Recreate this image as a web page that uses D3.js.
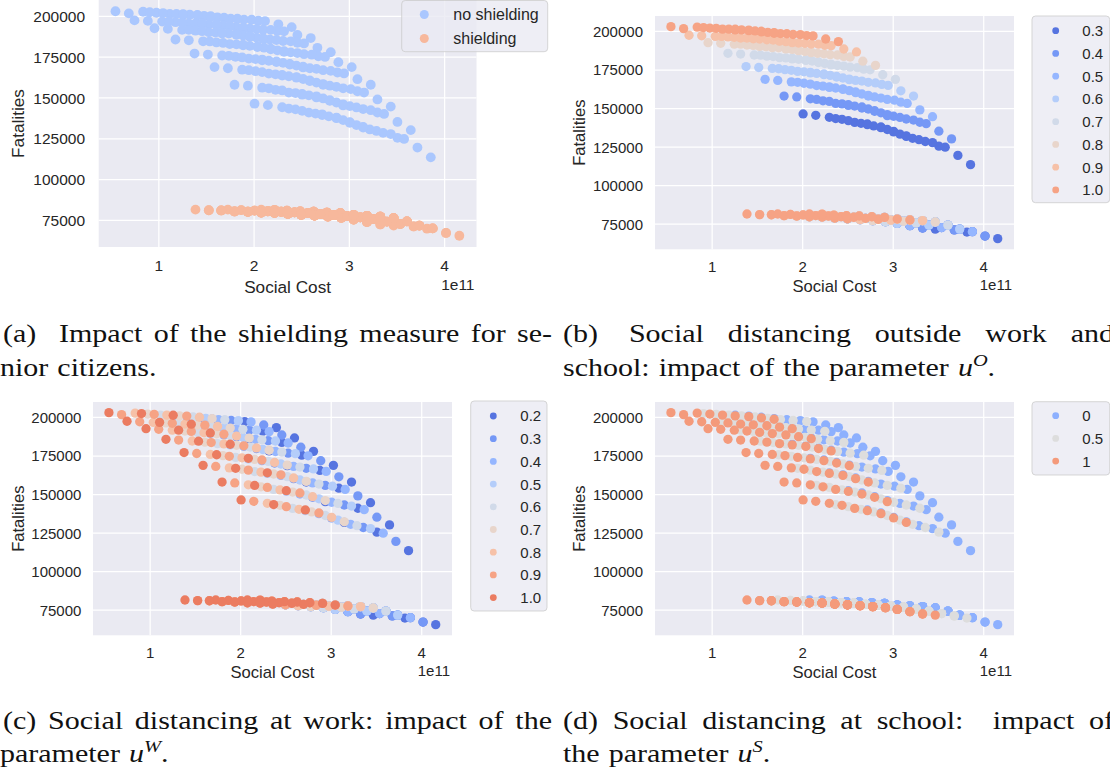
<!DOCTYPE html>
<html>
<head>
<meta charset="utf-8">
<script src="https://cdn.jsdelivr.net/npm/d3@7/dist/d3.min.js"></script>
<style>
  html, body { margin: 0; padding: 0; background: #ffffff; overflow: hidden; }
  svg { display: block; }
</style>
</head>
<body>
<svg id="fig" width="1110" height="775" viewBox="0 0 1110 775"></svg>
<script>
// ================= DATA =================
const uOValues = [1.0, 0.9, 0.8, 0.7, 0.6, 0.5, 0.4, 0.3];
const uSValues = [1, 0.5, 0];
const uWValues = [1.0, 0.9, 0.8, 0.7, 0.6, 0.5, 0.4, 0.3, 0.2];
const shieldLabels = ["no shielding", "shielding"];
const xTickValues = [1, 2, 3, 4];
const yTickValues = [75000, 100000, 125000, 150000, 175000, 200000];

// Social cost (x 1e11), indexed [uO][uS][uW]  (no shielding)
const costNoShield = [
 [[0.55,0.69,0.84,0.98,1.12,1.26,1.41,1.55,1.69],[0.91,1.05,1.19,1.33,1.48,1.62,1.76,1.90,2.05],[1.26,1.41,1.55,1.69,1.83,1.98,2.12,2.26,2.40]],
 [[0.75,0.89,1.04,1.18,1.32,1.46,1.61,1.75,1.89],[1.11,1.25,1.39,1.53,1.68,1.82,1.96,2.10,2.25],[1.46,1.61,1.75,1.89,2.03,2.18,2.32,2.46,2.60]],
 [[0.96,1.10,1.25,1.39,1.53,1.67,1.82,1.96,2.10],[1.32,1.46,1.60,1.74,1.89,2.03,2.17,2.31,2.46],[1.67,1.82,1.96,2.10,2.24,2.39,2.53,2.67,2.81]],
 [[1.18,1.32,1.47,1.61,1.75,1.89,2.04,2.18,2.32],[1.54,1.68,1.82,1.96,2.11,2.25,2.39,2.53,2.68],[1.89,2.04,2.18,2.32,2.46,2.61,2.75,2.89,3.03]],
 [[1.38,1.52,1.67,1.81,1.95,2.09,2.24,2.38,2.52],[1.74,1.88,2.02,2.16,2.31,2.45,2.59,2.73,2.88],[2.09,2.24,2.38,2.52,2.66,2.81,2.95,3.09,3.23]],
 [[1.59,1.73,1.88,2.02,2.16,2.30,2.45,2.59,2.73],[1.95,2.09,2.23,2.37,2.52,2.66,2.80,2.94,3.09],[2.30,2.45,2.59,2.73,2.87,3.02,3.16,3.30,3.44]],
 [[1.80,1.94,2.09,2.23,2.37,2.51,2.66,2.80,2.94],[2.16,2.30,2.44,2.58,2.73,2.87,3.01,3.15,3.30],[2.51,2.66,2.80,2.94,3.08,3.23,3.37,3.51,3.65]],
 [[2.01,2.15,2.30,2.44,2.58,2.72,2.87,3.01,3.15],[2.37,2.51,2.65,2.79,2.94,3.08,3.22,3.36,3.51],[2.72,2.87,3.01,3.15,3.29,3.44,3.58,3.72,3.86]]
];
// Fatalities (thousands), indexed [uO][uS][uW]  (no shielding)
const fatalNoShieldK = [
 [[202.8,201.5,202.5,201.9,201.2,200.7,200.2,199.4,198.5],[202.2,201.7,201.2,200.7,200.0,199.1,198.3,197.7,197.0],[201.1,200.6,199.8,198.9,198.2,197.6,196.8,194.8,193.1]],
 [[197.2,196.9,196.5,196.1,195.4,194.9,194.3,193.4,192.4],[196.5,195.9,195.4,194.8,194.1,193.1,192.2,191.5,190.7],[195.3,194.7,193.8,192.8,192.0,191.4,190.5,188.3,186.4]],
 [[192.4,192.0,191.4,190.9,190.0,189.2,188.4,187.2,185.9],[191.4,190.6,189.8,189.1,188.0,186.7,185.5,184.6,183.5],[189.6,188.8,187.6,186.3,185.2,184.4,183.1,180.4,177.7]],
 [[185.5,185.0,184.4,183.7,182.7,181.9,180.9,179.5,178.0],[184.3,183.4,182.5,181.6,180.5,178.9,177.6,176.5,175.2],[182.3,181.3,179.9,178.4,177.2,176.2,174.8,171.6,168.6]],
 [[176.9,176.3,175.7,174.9,173.8,172.8,171.7,170.1,168.4],[175.5,174.5,173.5,172.5,171.2,169.5,167.9,166.7,165.3],[173.2,172.1,170.5,168.8,167.5,166.3,164.7,161.2,157.8]],
 [[168.6,167.9,167.0,166.1,164.6,163.4,162.1,160.0,157.8],[166.7,165.5,164.2,163.0,161.3,159.1,157.2,155.6,153.8],[163.8,162.5,160.4,158.2,156.5,155.1,153.0,148.8,144.4]],
 [[157.8,157.2,156.0,154.7,153.0,151.7,150.0,147.9,145.1],[155.6,154.3,152.7,151.3,149.4,146.9,144.7,142.9,140.8],[152.2,150.7,148.3,145.8,143.9,142.2,139.9,135.0,130.0]],
 [[146.2,145.3,144.0,142.7,140.7,139.2,137.3,134.5,131.6],[143.2,141.8,140.1,138.4,136.1,133.1,130.4,128.3,125.3],[139.7,137.7,134.9,132.0,129.5,127.6,124.6,119.3,113.3]]
];
// Social cost (x 1e11), indexed [uO][uS][uW]  (shielding)
const costShield = [
 [[1.39,1.53,1.66,1.80,1.94,2.08,2.22,2.36,2.50],[1.73,1.87,2.01,2.15,2.29,2.43,2.57,2.70,2.84],[2.08,2.22,2.35,2.49,2.63,2.77,2.91,3.05,3.19]],
 [[1.53,1.66,1.80,1.94,2.08,2.22,2.36,2.50,2.64],[1.87,2.01,2.15,2.29,2.43,2.57,2.70,2.84,2.98],[2.22,2.35,2.49,2.63,2.77,2.91,3.05,3.19,3.33]],
 [[1.66,1.80,1.94,2.08,2.22,2.36,2.50,2.64,2.78],[2.01,2.15,2.29,2.43,2.57,2.70,2.84,2.98,3.12],[2.35,2.49,2.63,2.77,2.91,3.05,3.19,3.33,3.47]],
 [[1.80,1.94,2.08,2.22,2.36,2.50,2.64,2.78,2.92],[2.15,2.29,2.43,2.57,2.70,2.84,2.98,3.12,3.26],[2.49,2.63,2.77,2.91,3.05,3.19,3.33,3.47,3.61]],
 [[1.94,2.08,2.22,2.36,2.50,2.64,2.78,2.92,3.05],[2.29,2.43,2.57,2.70,2.84,2.98,3.12,3.26,3.40],[2.63,2.77,2.91,3.05,3.19,3.33,3.47,3.61,3.74]],
 [[2.08,2.22,2.36,2.50,2.64,2.78,2.92,3.05,3.19],[2.43,2.57,2.70,2.84,2.98,3.12,3.26,3.40,3.54],[2.77,2.91,3.05,3.19,3.33,3.47,3.61,3.74,3.88]],
 [[2.22,2.36,2.50,2.64,2.78,2.92,3.05,3.19,3.33],[2.57,2.70,2.84,2.98,3.12,3.26,3.40,3.54,3.68],[2.91,3.05,3.19,3.33,3.47,3.61,3.74,3.88,4.02]],
 [[2.36,2.50,2.64,2.78,2.92,3.05,3.19,3.33,3.47],[2.70,2.84,2.98,3.12,3.26,3.40,3.54,3.68,3.82],[3.05,3.19,3.33,3.47,3.61,3.74,3.88,4.02,4.16]]
];
// Fatalities (thousands), indexed [uO][uS][uW]  (shielding)
const fatalShieldK = [
 [[81.3,80.9,80.8,80.2,80.0,79.5,79.3,78.7,78.2],[81.3,81.0,80.7,80.3,80.0,79.6,79.2,78.5,77.9],[81.3,81.2,80.6,80.2,80.0,79.5,79.1,78.0,77.4]],
 [[80.9,80.8,80.2,80.0,79.5,79.3,78.7,78.2,77.6],[81.0,80.7,80.3,80.0,79.6,79.2,78.5,77.9,77.3],[81.2,80.6,80.2,80.0,79.5,79.1,78.0,77.4,77.0]],
 [[80.8,80.2,80.0,79.5,79.3,78.7,78.2,77.6,77.0],[80.7,80.3,80.0,79.6,79.2,78.5,77.9,77.3,76.6],[80.6,80.2,80.0,79.5,79.1,78.0,77.4,77.0,76.1]],
 [[80.2,80.0,79.5,79.3,78.7,78.2,77.6,77.0,76.3],[80.3,80.0,79.6,79.2,78.5,77.9,77.3,76.6,75.5],[80.2,80.0,79.5,79.1,78.0,77.4,77.0,76.1,74.1]],
 [[80.0,79.5,79.3,78.7,78.2,77.6,77.0,76.3,75.2],[80.0,79.6,79.2,78.5,77.9,77.3,76.6,75.5,74.0],[80.0,79.5,79.1,78.0,77.4,77.0,76.1,74.1,71.5]],
 [[79.5,79.3,78.7,78.2,77.6,77.0,76.3,75.2,73.7],[79.6,79.2,78.5,77.9,77.3,76.6,75.5,74.0,72.5],[79.5,79.1,78.0,77.4,77.0,76.1,74.1,71.5,69.8]],
 [[79.3,78.7,78.2,77.6,77.0,76.3,75.2,73.7,72.2],[79.2,78.5,77.9,77.3,76.6,75.5,74.0,72.5,71.0],[79.1,78.0,77.4,77.0,76.1,74.1,71.5,69.8,67.0]],
 [[78.7,78.2,77.6,77.0,76.3,75.2,73.7,72.2,71.5],[78.5,77.9,77.3,76.6,75.5,74.0,72.5,71.0,69.6],[78.0,77.4,77.0,76.1,74.1,71.5,69.8,67.0,65.3]]
];

// legend entries
const legendUO = [0.3, 0.4, 0.5, 0.6, 0.7, 0.8, 0.9, 1.0];
const legendUW = [0.2, 0.3, 0.4, 0.5, 0.6, 0.7, 0.8, 0.9, 1.0];
const legendUS = [0, 0.5, 1];
const legendUSLabels = ["0", "0.5", "1"];

// palettes (coolwarm samples)
const paletteShield = ["#aac7fe", "#f7b89c"];
const paletteUO = ["#5674e0", "#7598f6", "#95b6ff", "#b4cdfa", "#d1dae9", "#e8d5cb", "#f6c1a8", "#f6a385"];
const paletteUW = ["#5674e0", "#7598f6", "#95b6ff", "#b4cdfa", "#d1dae9", "#e8d5cb", "#f6c1a8", "#f6a385", "#eb7c61"];
const paletteUS = ["#8db0fe", "#dddddd", "#f49a7b"];

// ================= BUILD =================
const points = [];
uOValues.forEach((uO, o) => uSValues.forEach((uS, s) => uWValues.forEach((uW, w) => {
  points.push({shield: shieldLabels[0], uO, uS, uW, cost: costNoShield[o][s][w], fat: fatalNoShieldK[o][s][w] * 1000});
  points.push({shield: shieldLabels[1], uO, uS, uW, cost: costShield[o][s][w], fat: fatalShieldK[o][s][w] * 1000});
})));

const SANS = "'Liberation Sans', Arial, 'DejaVu Sans', sans-serif";
const SERIF = "'Liberation Serif', 'Times New Roman', 'DejaVu Serif', serif";
const TXT = "#262626";
const X_DOMAIN = [0.374, 4.34];
const Y_DOMAIN = [58400, 209700];

const svg = d3.select("#fig");
svg.append("rect").attr("width", 1110).attr("height", 775).attr("fill", "#fff");

const colorShield = d3.scaleOrdinal().domain(shieldLabels).range(paletteShield);
const colorUO = d3.scaleOrdinal().domain(legendUO).range(paletteUO);
const colorUW = d3.scaleOrdinal().domain(legendUW).range(paletteUW);
const colorUS = d3.scaleOrdinal().domain(legendUS).range(paletteUS);

function drawPanel(c) {
  const g = svg.append("g");
  const x = d3.scaleLinear().domain(X_DOMAIN).range([c.l, c.r]);
  const y = d3.scaleLinear().domain(Y_DOMAIN).range([c.b, c.t]);
  g.append("rect").attr("x", c.l).attr("y", c.t).attr("width", c.r - c.l).attr("height", c.b - c.t).attr("fill", "#eaeaf2");

  const xa = g.append("g").attr("transform", `translate(0,${c.b})`)
    .call(d3.axisBottom(x).tickValues(xTickValues).tickSize(-(c.b - c.t)).tickPadding(0).tickFormat(d3.format("d")));
  xa.select(".domain").remove();
  xa.attr("font-family", SANS).attr("font-size", c.tickFs);
  xa.selectAll(".tick line").attr("stroke", "#fff").attr("stroke-width", 1.25);
  xa.selectAll(".tick text").attr("y", c.xTickBase).attr("dy", null).attr("fill", TXT);

  const ya = g.append("g").attr("transform", `translate(${c.l},0)`)
    .call(d3.axisLeft(y).tickValues(yTickValues).tickSize(-(c.r - c.l)).tickPadding(0).tickFormat(d3.format("d")));
  ya.select(".domain").remove();
  ya.attr("font-family", SANS).attr("font-size", c.tickFs);
  ya.selectAll(".tick line").attr("stroke", "#fff").attr("stroke-width", 1.25);
  ya.selectAll(".tick text").attr("x", -(c.l - c.yTickRight)).attr("dy", "0.36em").attr("fill", TXT);

  const data = points.slice().sort((a, b) => d3.ascending(a[c.key], b[c.key]));
  g.append("g").selectAll("circle").data(data).join("circle")
    .attr("cx", d => x(d.cost)).attr("cy", d => y(d.fat)).attr("r", c.rad)
    .attr("fill", d => c.color(d[c.key]));

  g.append("text").attr("x", (c.l + c.r) / 2).attr("y", c.b + c.xLabBase)
    .attr("text-anchor", "middle").attr("font-family", SANS).attr("font-size", c.labFs).attr("fill", TXT).text("Social Cost");
  g.append("text").attr("x", c.r - 2).attr("y", c.b + c.offBase)
    .attr("text-anchor", "end").attr("font-family", SANS).attr("font-size", c.tickFs).attr("fill", TXT).text("1e11");
  g.append("text").attr("transform", `translate(${c.ylabX},${(c.t + c.b) / 2}) rotate(-90)`)
    .attr("text-anchor", "middle").attr("font-family", SANS).attr("font-size", c.labFs).attr("fill", TXT).text("Fatalities");

  const L = c.legend;
  const lg = svg.append("g");
  lg.append("rect").attr("x", L.x).attr("y", L.y).attr("width", L.w).attr("height", L.h).attr("rx", 3.5)
    .attr("fill", "#eaeaf2").attr("fill-opacity", 0.8).attr("stroke", "#cccccc").attr("stroke-opacity", 0.8).attr("stroke-width", 1);
  L.items.forEach((it, i) => {
    const cy = L.cy0 + i * L.step;
    lg.append("circle").attr("cx", L.mx).attr("cy", cy).attr("r", L.mr).attr("fill", c.color(it));
    lg.append("text").attr("x", L.tx).attr("y", cy).attr("dy", "0.36em")
      .attr("font-family", SANS).attr("font-size", L.fs).attr("fill", TXT).text(L.labels[i]);
  });
}

drawPanel({l: 98.7, r: 476.5, t: 0, b: 247, key: "shield", color: colorShield, rad: 4.9,
  tickFs: 15.5, labFs: 17.2, xTickBase: 23.7, xLabBase: 45.5, offBase: 43, yTickRight: 85, ylabX: 24,
  legend: {x: 401.7, y: 0.5, w: 146, h: 51.2, items: shieldLabels, labels: shieldLabels,
           cy0: 14.5, step: 24, mx: 424.3, mr: 4.5, tx: 453.3, fs: 16}});

drawPanel({l: 655, r: 1014, t: 16, b: 249.3, key: "uO", color: colorUO, rad: 4.65,
  tickFs: 15, labFs: 16.6, xTickBase: 22.8, xLabBase: 43, offBase: 41, yTickRight: 643, ylabX: 585,
  legend: {x: 1032, y: 16, w: 77.7, h: 186.7, items: legendUO, labels: legendUO.map(d => d.toFixed(1)),
           cy0: 30.7, step: 22.75, mx: 1055.7, mr: 3.4, tx: 1082.3, fs: 15}});

drawPanel({l: 93, r: 452, t: 402, b: 635.3, key: "uW", color: colorUW, rad: 4.65,
  tickFs: 15, labFs: 16.6, xTickBase: 22.5, xLabBase: 42.6, offBase: 40.6, yTickRight: 81.4, ylabX: 24.3,
  legend: {x: 470.7, y: 401, w: 76.3, h: 210, items: legendUW, labels: legendUW.map(d => d.toFixed(1)),
           cy0: 416, step: 22.7, mx: 493.3, mr: 3.4, tx: 520.3, fs: 15}});

drawPanel({l: 655, r: 1014, t: 402, b: 635.3, key: "uS", color: colorUS, rad: 4.65,
  tickFs: 15, labFs: 16.6, xTickBase: 22.5, xLabBase: 42.6, offBase: 40.6, yTickRight: 643, ylabX: 585,
  legend: {x: 1032, y: 401.7, w: 77.7, h: 73.3, items: legendUS, labels: legendUSLabels,
           cy0: 415.7, step: 22.7, mx: 1055.7, mr: 3.4, tx: 1082.3, fs: 15}});

// ================= CAPTIONS =================
const CAP_FS = 25;
const CAP_STRETCH = 1.2;

function captionLine(x0, base, words, opts) {
  opts = opts || {};
  const g = svg.append("g").attr("font-family", SERIF).attr("font-size", CAP_FS).attr("fill", "#111");
  const texts = words.map(wd => {
    const t = g.append("text").attr("y", base);
    (typeof wd === "string" ? [{t: wd}] : wd).forEach(seg => {
      const ts = t.append("tspan").text(seg.t);
      if (seg.it) ts.attr("font-style", "italic");
      if (seg.sup) ts.attr("font-size", CAP_FS * 0.68).attr("dy", -CAP_FS * 0.4);
      if (seg.back) ts.attr("dy", CAP_FS * 0.4);
    });
    return t;
  });
  const nat = texts.map(t => t.node().getComputedTextLength());
  const wS = nat.map(w => w * CAP_STRETCH);
  const weights = opts.weights || words.slice(1).map(() => 1);
  const units = d3.sum(weights);
  const gap = opts.target ? (opts.target - d3.sum(wS)) / units : CAP_FS * CAP_STRETCH * 0.3;
  let xs = x0;
  texts.forEach((t, i) => {
    t.attr("x", xs).attr("textLength", wS[i]).attr("lengthAdjust", "spacingAndGlyphs");
    xs += wS[i] + (i < weights.length ? weights[i] * gap : 0);
  });
}
const mathWord = (sup) => [{t: "u", it: true}, {t: sup, it: true, sup: true}, {t: ".", back: true}];

captionLine(3, 342, ["(a)", "Impact", "of", "the", "shielding", "measure", "for", "se-"], {target: 549, weights: [2,1,1,1,1,1,1]});
captionLine(0, 376, ["nior", "citizens."]);
captionLine(563, 342, ["(b)", "Social", "distancing", "outside", "work", "and"], {target: 551, weights: [1.3,1,1,1,1]});
captionLine(563, 376, ["school:", "impact", "of", "the", "parameter", mathWord("O")]);
captionLine(3, 729, ["(c)", "Social", "distancing", "at", "work:", "impact", "of", "the"], {target: 549});
captionLine(0, 762, ["parameter", mathWord("W")]);
captionLine(563, 729, ["(d)", "Social", "distancing", "at", "school:", "impact", "of"], {target: 551, weights: [1,1,1,1,2,1]});
captionLine(563, 762, ["the", "parameter", mathWord("S")]);
</script>
</body>
</html>
